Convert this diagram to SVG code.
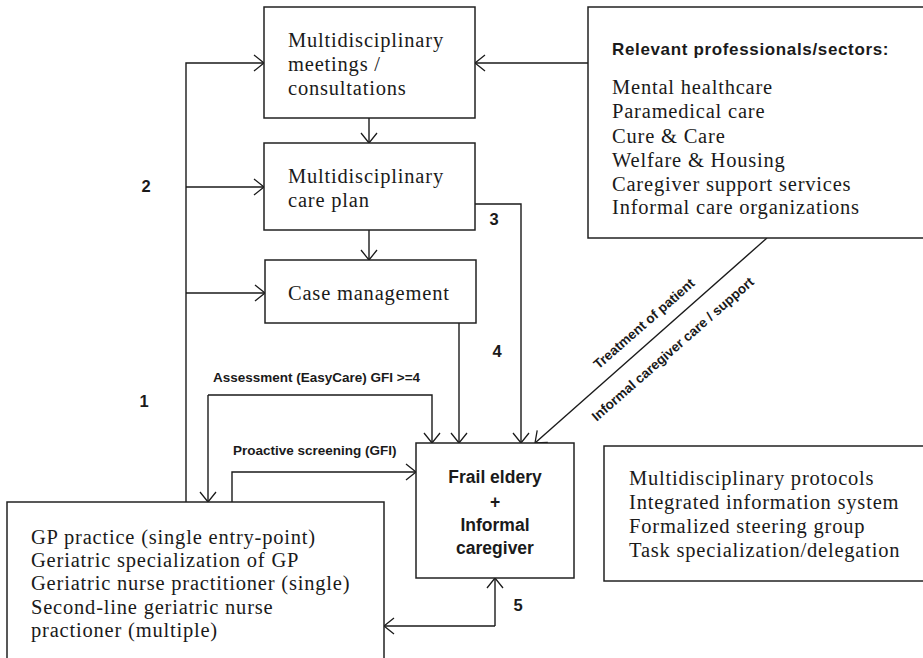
<svg xmlns="http://www.w3.org/2000/svg" width="923" height="658" viewBox="0 0 923 658">
<style>
.box{fill:#fff;stroke:#222;stroke-width:1.5}
.ser{font-family:"Liberation Serif","Times New Roman",serif;font-size:20.5px;letter-spacing:0.8px;fill:#1a1a1a}
.sans{font-family:"Liberation Sans",Arial,sans-serif;font-weight:bold;fill:#1a1a1a}
.lbl{font-size:13.5px}
.num{font-size:16.5px;text-anchor:middle}
.frail{font-size:17.5px;text-anchor:middle}
.ttl{font-size:17px;letter-spacing:0.65px}
.con path{fill:none;stroke:#1a1a1a;stroke-width:1.4}
</style>
<defs>
<marker id="ah" viewBox="0 0 12 18" refX="11" refY="9" markerWidth="12" markerHeight="18" orient="auto" markerUnits="userSpaceOnUse">
<path d="M1,1 L11,9 L1,17" fill="none" stroke="#1a1a1a" stroke-width="1.3"/>
</marker>
</defs>
<rect width="923" height="658" fill="#fff"/>

<g id="connectors" class="con">
<path d="M186,502 L186,63 L264,63" marker-end="url(#ah)"/>
<path d="M186,187 L264,187" marker-end="url(#ah)"/>
<path d="M186,293 L265,293" marker-end="url(#ah)"/>
<path d="M588,63 L475,63" marker-end="url(#ah)"/>
<path d="M369,118 L369,143" marker-end="url(#ah)"/>
<path d="M369,230 L369,260" marker-end="url(#ah)"/>
<path d="M475,204 L521,204 L521,443" marker-end="url(#ah)"/>
<path d="M459,323 L459,443" marker-end="url(#ah)"/>
<path d="M208,395 L208,502" marker-end="url(#ah)"/>
<path d="M208,395 L432,395 L432,443" marker-end="url(#ah)"/>
<path d="M232,502 L232,472 L416,472" marker-end="url(#ah)"/>
<path d="M495,626 L495,578" marker-end="url(#ah)"/>
<path d="M495,626 L384,626" marker-end="url(#ah)"/>
<path d="M767,238 L535,443" marker-end="url(#ah)"/>
</g>

<g id="connector-labels">
<text class="sans num" x="146" y="192">2</text>
<text class="sans num" x="144" y="407">1</text>
<text class="sans num" x="494" y="225">3</text>
<text class="sans num" x="497" y="357">4</text>
<text class="sans num" x="518" y="611">5</text>
<text class="sans lbl" x="213" y="382">Assessment (EasyCare) GFI &gt;=4</text>
<text class="sans lbl" x="233" y="455">Proactive screening (GFI)</text>
<text class="sans lbl" transform="translate(598.5,369.6) rotate(-41.2)">Treatment of patient</text>
<text class="sans lbl" transform="translate(596.7,421.7) rotate(-41.2)">Informal caregiver care / support</text>
</g>

<g id="meetings">
<rect class="box" x="264" y="7" width="211" height="111"/>
<text class="ser" x="288" y="47">Multidisciplinary</text>
<text class="ser" x="288" y="71">meetings /</text>
<text class="ser" x="288" y="95">consultations</text>
</g>

<g id="careplan">
<rect class="box" x="264" y="143" width="211" height="87"/>
<text class="ser" x="288" y="183">Multidisciplinary</text>
<text class="ser" x="288" y="207">care plan</text>
</g>

<g id="casemanagement">
<rect class="box" x="265" y="260" width="211" height="63"/>
<text class="ser" x="288" y="300">Case management</text>
</g>

<g id="professionals">
<rect class="box" x="588" y="7" width="345" height="231"/>
<text class="sans ttl" x="612" y="55">Relevant professionals/sectors:</text>
<text class="ser" x="612" y="94">Mental healthcare</text>
<text class="ser" x="612" y="118">Paramedical care</text>
<text class="ser" x="612" y="143">Cure &amp; Care</text>
<text class="ser" x="612" y="167">Welfare &amp; Housing</text>
<text class="ser" x="612" y="191">Caregiver support services</text>
<text class="ser" x="612" y="214">Informal care organizations</text>
</g>

<g id="frail">
<rect class="box" x="416" y="443" width="158" height="135"/>
<text class="sans frail" x="495" y="483">Frail eldery</text>
<text class="sans frail" x="495" y="508">+</text>
<text class="sans frail" x="495" y="531">Informal</text>
<text class="sans frail" x="495" y="554">caregiver</text>
</g>

<g id="gp">
<rect class="box" x="7" y="502" width="377" height="170"/>
<text class="ser" x="31" y="544">GP practice (single entry-point)</text>
<text class="ser" x="31" y="567">Geriatric specialization of GP</text>
<text class="ser" x="31" y="590">Geriatric nurse practitioner (single)</text>
<text class="ser" x="31" y="614">Second-line geriatric nurse</text>
<text class="ser" x="31" y="637">practioner (multiple)</text>
</g>

<g id="protocols">
<rect class="box" x="604" y="446" width="330" height="135"/>
<text class="ser" x="629" y="485">Multidisciplinary protocols</text>
<text class="ser" x="629" y="509">Integrated information system</text>
<text class="ser" x="629" y="533">Formalized steering group</text>
<text class="ser" x="629" y="557">Task specialization/delegation</text>
</g>
</svg>
